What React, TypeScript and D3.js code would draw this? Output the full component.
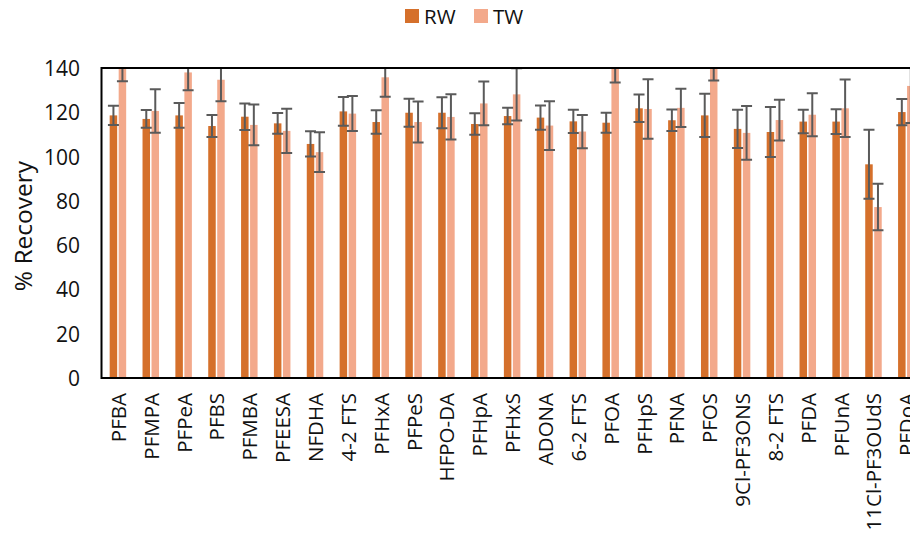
import React from "react";
import * as d3 from "d3";

const categories = ["PFBA", "PFMPA", "PFPeA", "PFBS", "PFMBA", "PFEESA", "NFDHA", "4-2 FTS", "PFHxA", "PFPeS", "HFPO-DA", "PFHpA", "PFHxS", "ADONA", "6-2 FTS", "PFOA", "PFHpS", "PFNA", "PFOS", "9Cl-PF3ONS", "8-2 FTS", "PFDA", "PFUnA", "11Cl-PF3OUdS", "PFDoA"];
const rwValues = [118.6, 117, 118.6, 113.8, 118, 115, 105.7, 120.4, 115.6, 119.8, 119.8, 114.7, 118.3, 117.6, 115.9, 115.3, 121.8, 116.4, 118.6, 112.5, 111.1, 115.8, 115.8, 96.5, 120.1];
const rwErrors = [4.3, 4, 5.6, 5, 6, 4.7, 5.7, 6.5, 5.3, 6.3, 7, 4.9, 3.7, 5.5, 5.2, 4.5, 6.2, 4.9, 9.8, 8.6, 11.3, 5.3, 5.6, 15.6, 5.9];
const twValues = [142, 120.6, 138, 134.7, 114.3, 111.6, 102, 119.4, 135.8, 115.6, 117.9, 124, 128.1, 114, 111.3, 142, 121.5, 122, 141, 110.7, 116.5, 118.9, 121.8, 77.2, 131.9];
const twErrors = [8, 9.8, 8, 9.7, 9.2, 10, 9, 7.9, 8.8, 9.3, 10.2, 9.9, 11.8, 11, 7.5, 8.5, 13.4, 8.6, 6.7, 12.1, 9.2, 9.7, 13, 10.5, 16.7];
const yTicks = [0, 20, 40, 60, 80, 100, 120, 140];
const seriesNames = ["RW", "TW"];

const W = 910;
const H = 535;
const left = 101.5;
const top = 68;
const bottom = 378;
const step = 32.85;
const plotRight = left + step * categories.length;
const colors = ["#D5702B", "#F3A98B"];
const FONT = "'Open Sans', sans-serif";

export default function App() {
  const x = d3.scaleBand<string>().domain(categories).range([left, plotRight]).padding(0);
  const y = d3.scaleLinear().domain([0, 140]).range([bottom, top]);
  const barW = 7.5;
  const gap = 1.5;
  const capHalf = 5.5;

  const series = [
    { vals: rwValues, errs: rwErrors, off: -gap / 2 - barW },
    { vals: twValues, errs: twErrors, off: gap / 2 },
  ];

  return (
    <svg width={W} height={H} style={{ position: "absolute", left: 0, top: 0, background: "#fff" }} fontFamily={FONT}>
      <defs>
        <clipPath id="plotClip">
          <rect x={left} y={top} width={plotRight - left} height={bottom - top} />
        </clipPath>
      </defs>
      {/* legend */}
      {seriesNames.map((n, i) => (
        <g key={n} transform={`translate(${405 + i * 69},9)`}>
          <rect width={14} height={14} fill={colors[i]} />
          <text x={19} y={14.5} fontSize={20.5} fill="#111">{n}</text>
        </g>
      ))}
      {/* bars */}
      <g clipPath="url(#plotClip)">
        {series.map((s, si) =>
          categories.map((c, i) => {
            const cx = (x(c) as number) + x.bandwidth() / 2;
            const bx = cx + s.off;
            return (
              <rect key={`b${si}-${i}`} x={bx} y={y(s.vals[i])} width={barW} height={bottom - y(s.vals[i])} fill={colors[si]} />
            );
          })
        )}
        {series.map((s, si) =>
          categories.map((c, i) => {
            const cx = (x(c) as number) + x.bandwidth() / 2;
            const ex = cx + s.off + barW / 2;
            const hi = y(s.vals[i] + s.errs[i]);
            const lo = y(s.vals[i] - s.errs[i]);
            return (
              <g key={`e${si}-${i}`} stroke="#5a5a5a" strokeWidth={2}>
                <line x1={ex} x2={ex} y1={hi} y2={lo} />
                <line x1={ex - capHalf} x2={ex + capHalf} y1={hi} y2={hi} />
                <line x1={ex - capHalf} x2={ex + capHalf} y1={lo} y2={lo} />
              </g>
            );
          })
        )}
      </g>
      {/* frame */}
      <rect x={left} y={top} width={plotRight - left} height={bottom - top} fill="none" stroke="#000" strokeWidth={2} />
      {/* y ticks */}
      {yTicks.map((t) => (
        <text key={t} x={80} y={y(t)} textAnchor="end" dominantBaseline="central" fontSize={21} fill="#111">{t}</text>
      ))}
      <text transform={`translate(22,${(top + bottom) / 2 + 3}) rotate(-90)`} textAnchor="middle" dominantBaseline="central" fontSize={24.5} fill="#111">% Recovery</text>
      {/* x labels */}
      {categories.map((c) => {
        const cx = (x(c) as number) + x.bandwidth() / 2;
        return (
          <text key={c} transform={`translate(${cx},393) rotate(-90)`} textAnchor="end" dominantBaseline="central" fontSize={20.5} fill="#111">{c}</text>
        );
      })}
    </svg>
  );
}
